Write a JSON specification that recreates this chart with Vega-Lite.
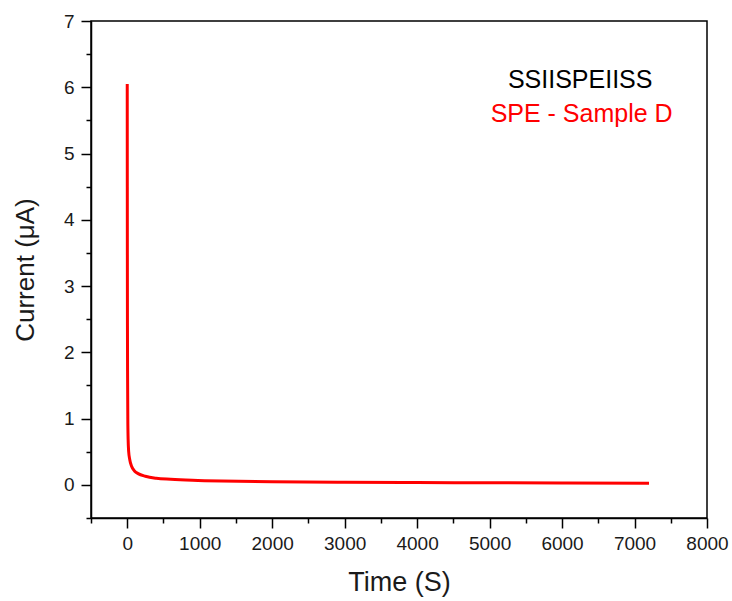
{
  "$schema": "https://vega.github.io/schema/vega-lite/v6.json",
  "width": 616,
  "height": 497,
  "autosize": {"type": "none"},
  "padding": {"left": 91, "top": 21, "right": 25, "bottom": 83},
  "background": "white",
  "config": {
    "font": "Liberation Sans",
    "view": {"stroke": "black", "strokeWidth": 1.5},
    "axis": {
      "grid": false,
      "domainColor": "black",
      "domainWidth": 1.5,
      "tickColor": "black",
      "tickWidth": 1.5,
      "labelColor": "#1a1a1a",
      "titleColor": "#1a1a1a",
      "labelFont": "Liberation Sans",
      "titleFont": "Liberation Sans",
      "labelFontSize": 19,
      "titleFontSize": 26,
      "titleFontWeight": "normal"
    }
  },
  "datasets": {
    "curve": [
      {"t": 0, "i": 6.05},
      {"t": 1, "i": 4.5},
      {"t": 2, "i": 3.2},
      {"t": 3, "i": 2.4},
      {"t": 5, "i": 1.6},
      {"t": 8, "i": 1.0},
      {"t": 12, "i": 0.7},
      {"t": 20, "i": 0.5},
      {"t": 35, "i": 0.38},
      {"t": 60, "i": 0.28},
      {"t": 100, "i": 0.21},
      {"t": 150, "i": 0.17},
      {"t": 250, "i": 0.13},
      {"t": 400, "i": 0.1},
      {"t": 600, "i": 0.085},
      {"t": 900, "i": 0.07},
      {"t": 1300, "i": 0.058},
      {"t": 2000, "i": 0.048},
      {"t": 3000, "i": 0.04},
      {"t": 4000, "i": 0.035},
      {"t": 5000, "i": 0.031},
      {"t": 6000, "i": 0.028},
      {"t": 7200, "i": 0.025}
    ],
    "labels": [
      {"t": 6250, "i": 6.11, "label": "SSIISPEIISS", "c": "black"},
      {"t": 6270, "i": 5.6, "label": "SPE - Sample D", "c": "red"}
    ]
  },
  "resolve": {"axis": {"x": "independent", "y": "independent"}},
  "layer": [
    {
      "data": {"name": "curve"},
      "mark": {"type": "line", "color": "#ff0000", "strokeWidth": 3, "interpolate": "monotone", "clip": true},
      "encoding": {
        "x": {
          "field": "t", "type": "quantitative",
          "scale": {"domain": [-500, 8000], "nice": false, "zero": false},
          "axis": {
            "orient": "bottom",
            "title": "Time (S)",
            "titleFontSize": 27,
            "titlePadding": 16,
            "values": [0, 1000, 2000, 3000, 4000, 5000, 6000, 7000, 8000],
            "format": "d",
            "tickSize": 10,
            "labelPadding": 6,
            "labelOverlap": false,
            "labelFlush": false
          }
        },
        "y": {
          "field": "i", "type": "quantitative",
          "scale": {"domain": [-0.5, 7], "nice": false, "zero": false},
          "axis": {
            "orient": "left",
            "title": "Current (μA)",
            "titlePadding": 25,
            "values": [0, 1, 2, 3, 4, 5, 6, 7],
            "format": "d",
            "tickSize": 10,
            "labelPadding": 7,
            "labelOverlap": false,
            "labelFlush": false
          }
        }
      }
    },
    {
      "data": {"name": "labels"},
      "mark": {"type": "text", "fontSize": 25, "font": "Liberation Sans", "align": "center", "baseline": "middle"},
      "encoding": {
        "x": {
          "field": "t", "type": "quantitative",
          "axis": {
            "orient": "bottom",
            "title": null,
            "labels": false,
            "domain": false,
            "tickSize": 5,
            "values": [-500, 500, 1500, 2500, 3500, 4500, 5500, 6500, 7500]
          }
        },
        "y": {
          "field": "i", "type": "quantitative",
          "axis": {
            "orient": "left",
            "title": null,
            "labels": false,
            "domain": false,
            "tickSize": 5,
            "values": [-0.5, 0.5, 1.5, 2.5, 3.5, 4.5, 5.5, 6.5]
          }
        },
        "text": {"field": "label"},
        "color": {"field": "c", "type": "nominal", "scale": null}
      }
    }
  ]
}
